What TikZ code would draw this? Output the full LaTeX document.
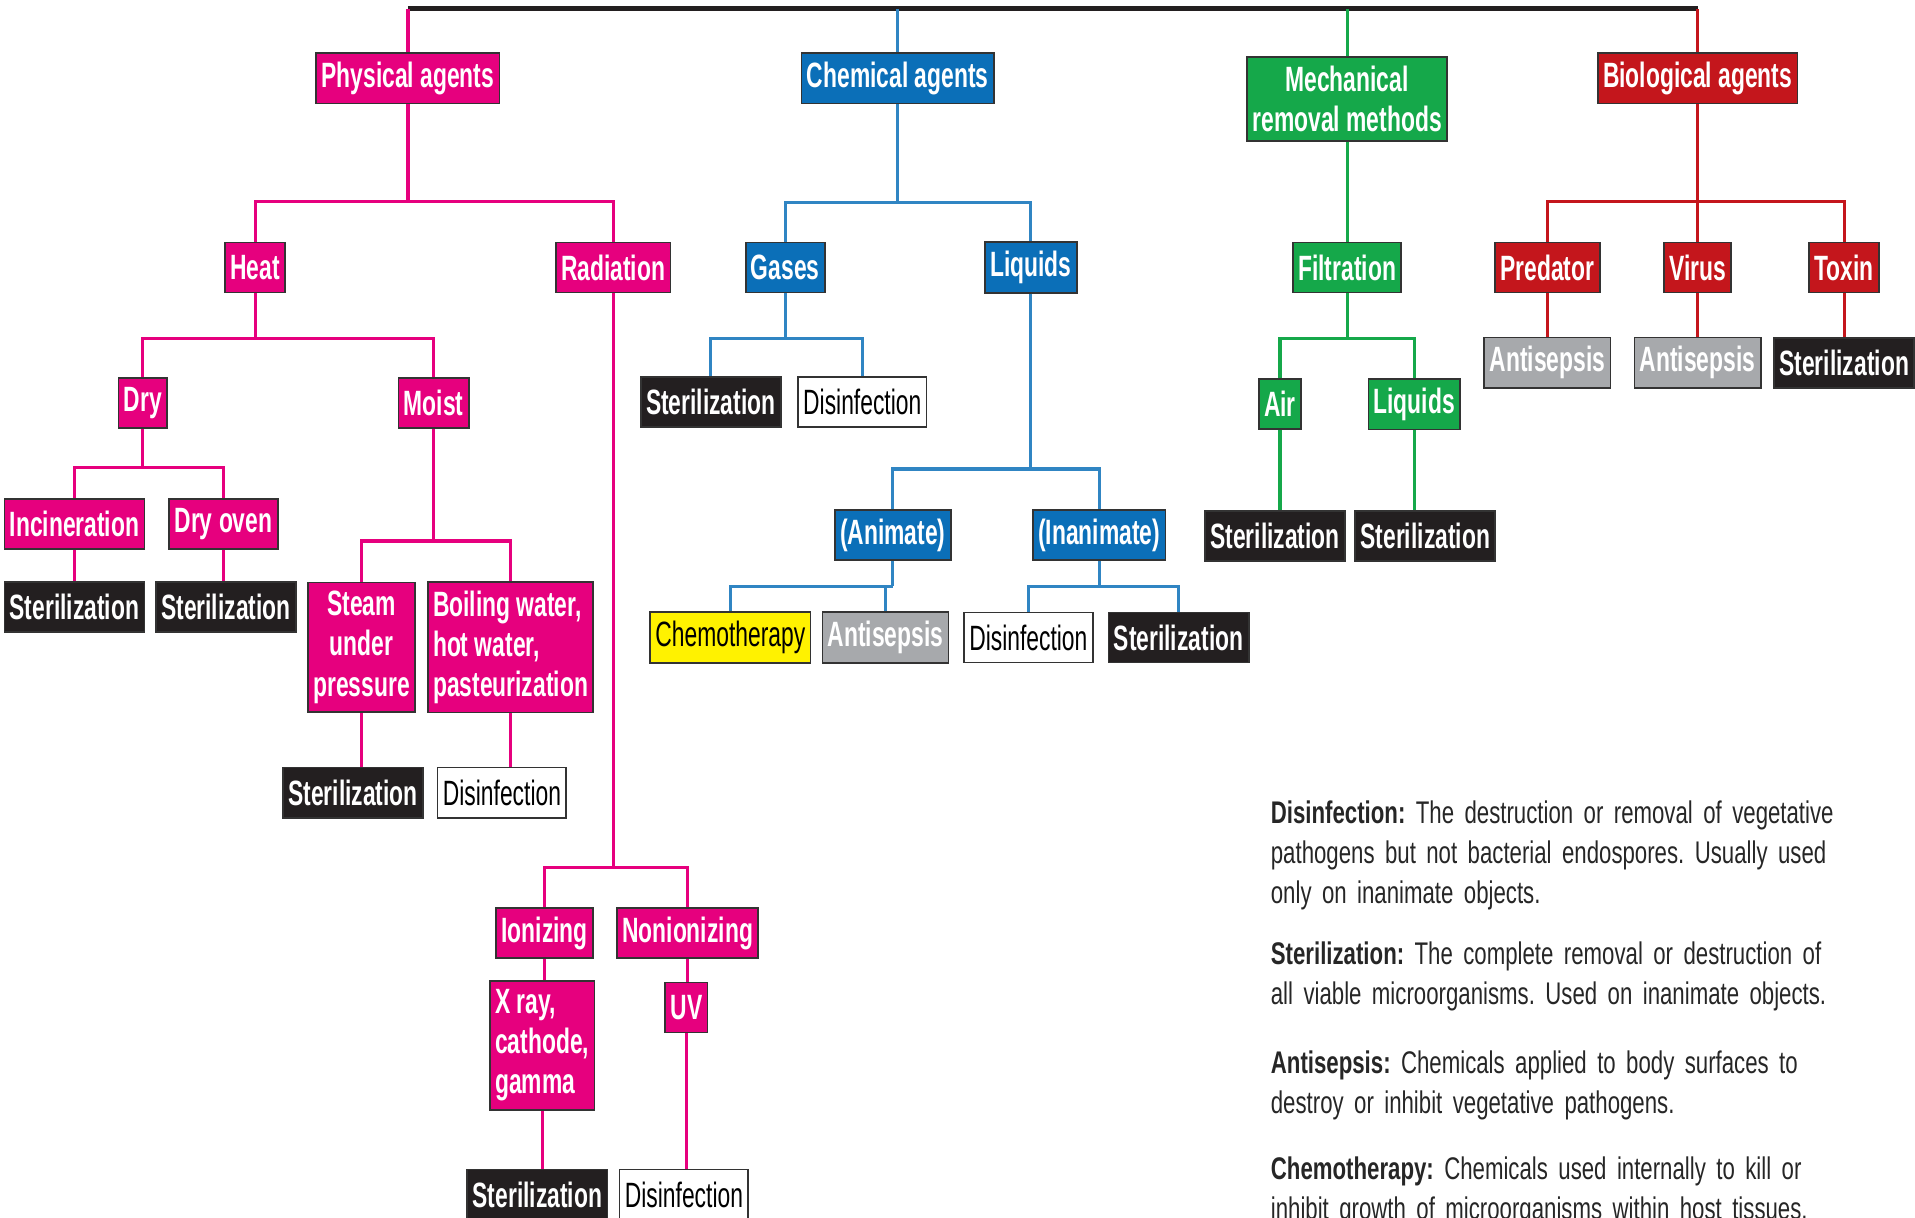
\documentclass[tikz,border=0pt]{standalone}
\usepackage{fontspec}
\newfontfamily\labelfont{Liberation Sans}[FakeStretch=0.65]
\newfontfamily\deffont{Liberation Sans}[FakeStretch=0.71]
\protected\def\defspacing{\spaceskip=1.5pt plus 0.3pt\relax}
\definecolor{physcol}{HTML}{E6007E}
\definecolor{chemcol}{HTML}{0B6FB8}
\definecolor{mechcol}{HTML}{15A84A}
\definecolor{biocol}{HTML}{C4161C}
\definecolor{darkbox}{HTML}{231F20}
\definecolor{greybox}{HTML}{A7A9AC}
\definecolor{yellowbox}{HTML}{FFF200}
\tikzset{
  box/.style={draw=black!80, line width=0.5pt, minimum height=0.5cm, inner xsep=1.5pt, inner ysep=2.5pt,
    text=white, align=center, font=\labelfont\fontsize{10}{11.4}\selectfont\bfseries},
  physbox/.style={box, fill=physcol},
  chembox/.style={box, fill=chemcol},
  mechbox/.style={box, fill=mechcol},
  biobox/.style={box, fill=biocol},
  sterbox/.style={box, fill=darkbox},
  antbox/.style={box, fill=greybox},
  disbox/.style={box, fill=white, text=black, font=\labelfont\fontsize{10}{11.4}\selectfont},
  chemobox/.style={box, fill=yellowbox, text=black, font=\labelfont\fontsize{10}{11.4}\selectfont},
  physline/.style={draw=physcol, line width=0.9pt},
  chemline/.style={draw=chemcol!85!white, line width=0.9pt},
  mechline/.style={draw=mechcol, line width=0.9pt},
  bioline/.style={draw=biocol, line width=0.9pt},
  topline/.style={draw=darkbox, line width=1.2pt},
  defn/.style={anchor=base west, inner sep=0pt, text width=6.6cm, align=left, text=black!85,
    font=\deffont\fontsize{8.9}{11.4}\selectfont\frenchspacing\defspacing}
}
\begin{document}
\begin{tikzpicture}[x=0.012213cm, y=-0.012213cm]
\useasboundingbox (0,0) rectangle (1568,997);
% top level
\node[physbox] (phys) at (334,64) {Physical agents};
\node[chembox] (chem) at (735,64) {Chemical agents};
\node[mechbox] (mech) at (1103,81) {Mechanical\\removal methods};
\node[biobox] (bio) at (1390,64) {Biological agents};
\path[draw,topline] (phys.north |- 0,7) -- (bio.north |- 0,7);
\path[draw,physline] (phys.north) -- (phys.north |- 0,7);
\path[draw,chemline] (chem.north) -- (chem.north |- 0,7);
\path[draw,mechline] (mech.north) -- (mech.north |- 0,7);
\path[draw,bioline] (bio.north) -- (bio.north |- 0,7);
% physical agents
\node[physbox] (heat) at (209,219) {Heat};
\node[physbox] (rad) at (502,219) {Radiation};
\node[physbox] (dry) at (117,330) {Dry};
\node[physbox] (moist) at (355,330) {Moist};
\node[physbox] (incin) at (61,429) {Incineration};
\node[physbox] (oven) at (183,429) {Dry oven};
\node[sterbox] (st1) at (61,497) {Sterilization};
\node[sterbox] (st2) at (185,497) {Sterilization};
\node[physbox] (steam) at (296,530) {Steam\\under\\pressure};
\node[physbox, align=left] (boil) at (418,530) {Boiling water,\\hot water,\\pasteurization};
\node[sterbox] (st3) at (289,649) {Sterilization};
\node[disbox] (dis1) at (411,649) {Disinfection};
\node[physbox] (ion) at (446,764) {Ionizing};
\node[physbox] (nonion) at (563,764) {Nonionizing};
\node[physbox, align=left] (xray) at (444,856) {X ray,\\cathode,\\gamma};
\node[physbox] (uv) at (562,825) {UV};
\node[sterbox] (st4) at (440,978) {Sterilization};
\node[disbox] (dis2) at (560,978) {Disinfection};
\path[draw,physline] (phys.south) -- (phys.south |- 0,165);
\path[draw,physline] (heat.north) |- (phys.south |- 0,165) -| (rad.north);
\path[draw,physline] (heat.south) -- (heat.south |- 0,277);
\path[draw,physline] (dry.north) |- (heat.south |- 0,277) -| (moist.north);
\path[draw,physline] (dry.south) -- (dry.south |- 0,383);
\path[draw,physline] (incin.north) |- (dry.south |- 0,383) -| (oven.north);
\path[draw,physline] (incin.south) -- (incin.south |- st1.north);
\path[draw,physline] (oven.south) -- (oven.south |- st2.north);
\path[draw,physline] (moist.south) -- (moist.south |- 0,443);
\path[draw,physline] (steam.north) |- (moist.south |- 0,443) -| (boil.north);
\path[draw,physline] (steam.south) -- (steam.south |- st3.north);
\path[draw,physline] (boil.south) -- (boil.south |- dis1.north);
\path[draw,physline] (rad.south) -- (rad.south |- 0,710);
\path[draw,physline] (ion.north) |- (rad.south |- 0,710) -| (nonion.north);
\path[draw,physline] (ion.south) -- (ion.south |- xray.north);
\path[draw,physline] (nonion.south) -- (nonion.south |- uv.north);
\path[draw,physline] (xray.south) -- (xray.south |- st4.north);
\path[draw,physline] (uv.south) -- (uv.south |- dis2.north);
% chemical agents
\node[chembox] (gas) at (643,219) {Gases};
\node[chembox] (liqc) at (844,219) {Liquids};
\node[sterbox] (st5) at (582,329) {Sterilization};
\node[disbox] (dis3) at (706,329) {Disinfection};
\node[chembox] (anim) at (731,438) {(Animate)};
\node[chembox] (inanim) at (900,438) {(Inanimate)};
\node[chemobox] (chemo) at (598,522) {Chemotherapy};
\node[antbox] (ant1) at (725,522) {Antisepsis};
\node[disbox] (dis4) at (842,522) {Disinfection};
\node[sterbox] (st6) at (965,522) {Sterilization};
\path[draw,chemline] (chem.south) -- (chem.south |- 0,166);
\path[draw,chemline] (gas.north) |- (chem.south |- 0,166) -| (liqc.north);
\path[draw,chemline] (gas.south) -- (gas.south |- 0,277);
\path[draw,chemline] (st5.north) |- (gas.south |- 0,277) -| (dis3.north);
\path[draw,chemline] (liqc.south) -- (liqc.south |- 0,384);
\path[draw,chemline] (anim.north) |- (liqc.south |- 0,384) -| (inanim.north);
\path[draw,chemline] (anim.south) -- (anim.south |- 0,480);
\path[draw,chemline] (chemo.north) |- (anim.south |- 0,480) -| (ant1.north);
\path[draw,chemline] (inanim.south) -- (inanim.south |- 0,480);
\path[draw,chemline] (dis4.north) |- (inanim.south |- 0,480) -| (st6.north);
% mechanical removal
\node[mechbox] (filt) at (1103,219) {Filtration};
\node[mechbox] (air) at (1048,331) {Air};
\node[mechbox] (liqm) at (1158,331) {Liquids};
\node[sterbox] (st7) at (1044,439) {Sterilization};
\node[sterbox] (st8) at (1167,439) {Sterilization};
\path[draw,mechline] (mech.south) -- (filt.north);
\path[draw,mechline] (filt.south) -- (filt.south |- 0,277);
\path[draw,mechline] (air.north) |- (filt.south |- 0,277) -| (liqm.north);
\path[draw,mechline] (air.south) -- (air.south |- st7.north);
\path[draw,mechline] (liqm.south) -- (liqm.south |- st8.north);
% biological agents
\node[biobox] (pred) at (1267,219) {Predator};
\node[biobox] (virus) at (1390,219) {Virus};
\node[biobox] (toxin) at (1510,219) {Toxin};
\node[antbox] (ant2) at (1267,297) {Antisepsis};
\node[antbox] (ant3) at (1390,297) {Antisepsis};
\node[sterbox] (st9) at (1510,297) {Sterilization};
\path[draw,bioline] (bio.south) -- (virus.north);
\path[draw,bioline] (pred.north) |- (bio.south |- 0,165) -| (toxin.north);
\path[draw,bioline] (pred.south) -- (ant2.north);
\path[draw,bioline] (virus.south) -- (ant3.north);
\path[draw,bioline] (toxin.south) -- (st9.north);
% definitions
\node[defn] (ddis) at (1040,674) {\textbf{Disinfection:} The destruction or removal of vegetative\\pathogens but not bacterial endospores. Usually used\\only on inanimate objects.};
\node[defn] (dster) at (1040,790) {\textbf{Sterilization:} The complete removal or destruction of\\all viable microorganisms. Used on inanimate objects.};
\node[defn] (dant) at (1040,879) {\textbf{Antisepsis:} Chemicals applied to body surfaces to\\destroy or inhibit vegetative pathogens.};
\node[defn] (dchemo) at (1040,966) {\textbf{Chemotherapy:} Chemicals used internally to kill or\\inhibit growth of microorganisms within host tissues.};
\end{tikzpicture}
\end{document}
